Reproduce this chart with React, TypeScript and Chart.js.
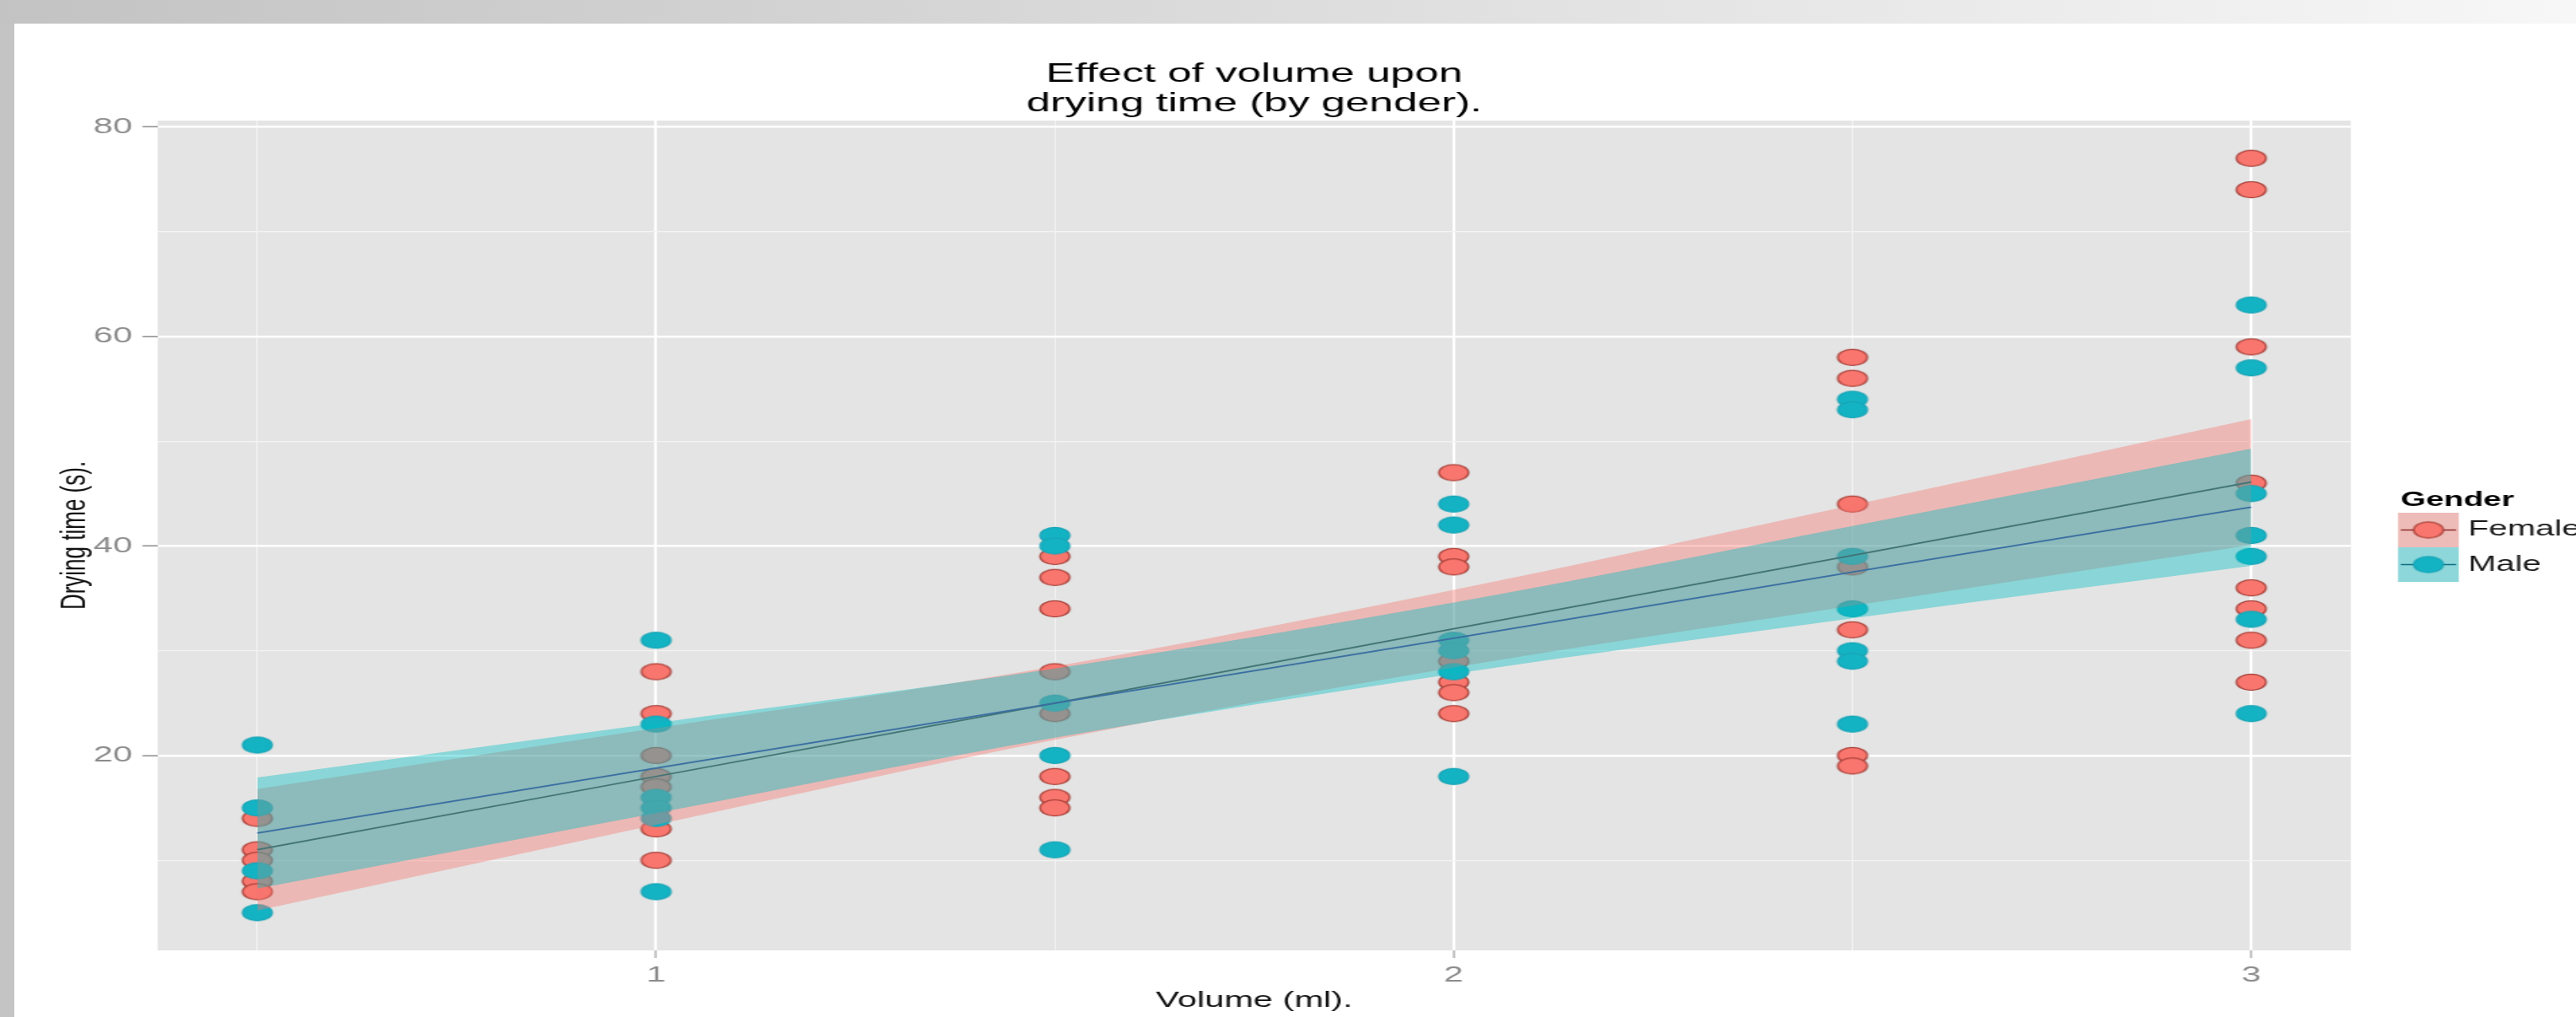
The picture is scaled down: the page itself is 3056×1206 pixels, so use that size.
import React, { useEffect, useRef } from 'react';
import { Chart, registerables } from 'chart.js';

Chart.register(...registerables);

// ---------------- data ----------------
const VOLUMES = [0.5, 1, 1.5, 2, 2.5, 3];
const FEMALE_TIMES = [
  [14, 11, 10, 8, 7],
  [28, 24, 20, 18, 17, 13, 10],
  [39, 37, 34, 28, 24, 18, 16, 15],
  [47, 39, 38, 29, 27, 26, 24],
  [58, 56, 44, 38, 32, 20, 19],
  [77, 74, 59, 46, 36, 34, 31, 27],
];
const MALE_TIMES = [
  [21, 15, 9, 5],
  [31, 23, 16, 15, 14, 7],
  [41, 40, 25, 20, 11],
  [44, 42, 31, 30, 28, 18],
  [54, 53, 39, 34, 30, 29, 23],
  [63, 57, 45, 41, 39, 33, 24],
];
const FIT_VOLUMES = [0.5, 1, 1.5, 2, 2.5, 3];
const FEMALE_FIT = [11.0, 18.0, 25.0, 32.1, 39.1, 46.1];
const FEMALE_LOW = [5.2, 13.4, 21.5, 28.4, 34.3, 40.1];
const FEMALE_HIGH = [16.8, 22.6, 28.5, 35.8, 43.9, 52.1];
const MALE_FIT = [12.6, 18.8, 25.0, 31.2, 37.5, 43.7];
const MALE_LOW = [7.3, 14.5, 21.7, 27.8, 33.1, 38.1];
const MALE_HIGH = [17.9, 23.1, 28.3, 34.6, 41.9, 49.3];

const SERIES = ['Female', 'Male'];
const X_TICKS = [0.5, 1, 1.5, 2, 2.5, 3];
const X_TICK_LABELS = ['', '1', '', '2', '', '3'];
const Y_TICKS = [10, 20, 30, 40, 50, 60, 70, 80];
const Y_TICK_LABELS = ['', '20', '', '40', '', '60', '', '80'];
const TITLE = ['Effect of volume upon', 'drying time (by gender).'];
const X_TITLE = 'Volume (ml).';
const Y_TITLE = 'Drying time (s).';
const LEGEND_TITLE = 'Gender';

// ---------------- style / layout ----------------
const PAGE_W = 3056;
const PAGE_H = 1206;
const STRETCH = 1.6; // the original picture is stretched horizontally
const CANVAS_W = PAGE_W / STRETCH;
const px = (fullX: number) => fullX / STRETCH;

const FONT = '"Liberation Sans", Arial, Helvetica, sans-serif';
Chart.defaults.font.family = FONT;

const FEMALE_FILL = '#F8766D';
const FEMALE_STROKE = '#A8403A';
const MALE_FILL = '#14B3C4';
const MALE_STROKE = '#1AA5B6';
const FEMALE_BAND = 'rgba(248,118,109,0.4)';
const MALE_BAND = 'rgba(0,191,196,0.4)';
const FEMALE_LINE = '#6E4441';
const MALE_LINE = '#3A6FA2';
const TICK_COLOR = '#8C8C8C';

const xLabel = (v: number) => {
  const i = X_TICKS.indexOf(v);
  return i >= 0 ? X_TICK_LABELS[i] : '';
};
const yLabel = (v: number) => {
  const i = Y_TICKS.indexOf(v);
  return i >= 0 ? Y_TICK_LABELS[i] : '';
};

function makeMarker(fill: string, stroke: string): HTMLCanvasElement {
  const rx = 35 / 2 / STRETCH;
  const ry = 9.6;
  const c = document.createElement('canvas');
  c.width = Math.ceil(rx * 2 + 4);
  c.height = Math.ceil(ry * 2 + 4);
  const g = c.getContext('2d')!;
  g.beginPath();
  g.ellipse(c.width / 2, c.height / 2, rx, ry, 0, 0, Math.PI * 2);
  g.fillStyle = fill;
  g.fill();
  g.lineWidth = 1.3;
  g.strokeStyle = stroke;
  g.stroke();
  return c;
}

const toPoints = (groups: number[][]) =>
  groups.flatMap((ys, i) => ys.map((y) => ({ x: VOLUMES[i], y })));
const toLine = (ys: number[]) => ys.map((y, i) => ({ x: FIT_VOLUMES[i], y }));

export default function App() {
  const ref = useRef<HTMLCanvasElement | null>(null);

  useEffect(() => {
    if (!ref.current) return;
    const femaleMarker = makeMarker(FEMALE_FILL, FEMALE_STROKE);
    const maleMarker = makeMarker(MALE_FILL, MALE_STROKE);

    const panelBg = {
      id: 'panelBg',
      beforeDraw(chart: any) {
        const { ctx, chartArea } = chart;
        ctx.save();
        ctx.fillStyle = '#E4E4E4';
        ctx.fillRect(chartArea.left, chartArea.top, chartArea.width, chartArea.height);
        ctx.restore();
      },
    };

    const ggLegend = {
      id: 'ggLegend',
      afterDraw(chart: any) {
        const ctx = chart.ctx;
        ctx.save();
        ctx.textBaseline = 'middle';
        ctx.textAlign = 'left';
        ctx.fillStyle = '#000';
        ctx.font = `bold 24px ${FONT}`;
        ctx.fillText(LEGEND_TITLE, px(2848), 593);
        const keys = [
          { bg: '#EEBCB8', line: '#8E2E2A', marker: femaleMarker, top: 608, textY: 628 },
          { bg: '#8DD7DA', line: '#0F6F84', marker: maleMarker, top: 649, textY: 670 },
        ];
        const left = px(2845);
        const w = px(2917) - left;
        keys.forEach((k, i) => {
          ctx.fillStyle = k.bg;
          ctx.fillRect(left, k.top, w, 41);
          const cy = k.top + 20.5;
          ctx.strokeStyle = k.line;
          ctx.lineWidth = 1.5;
          ctx.beginPath();
          ctx.moveTo(left + 2, cy);
          ctx.lineTo(left + w - 2, cy);
          ctx.stroke();
          ctx.drawImage(k.marker, left + w / 2 - k.marker.width / 2, cy - k.marker.height / 2);
          ctx.fillStyle = '#1A1A1A';
          ctx.font = `25px ${FONT}`;
          ctx.fillText(SERIES[i], px(2928), k.textY);
        });
        ctx.restore();
      },
    };

    const bandCommon = {
      pointRadius: 0,
      pointHoverRadius: 0,
      borderWidth: 0,
      borderColor: 'transparent',
      showLine: true,
      cubicInterpolationMode: 'monotone' as const,
    };

    const chart = new Chart(ref.current, {
      type: 'line',
      data: {
        datasets: [
          {
            label: SERIES[0],
            data: toPoints(FEMALE_TIMES),
            showLine: false,
            pointStyle: femaleMarker as any,
            pointRadius: 10,
            order: 6,
          },
          {
            label: SERIES[1],
            data: toPoints(MALE_TIMES),
            showLine: false,
            pointStyle: maleMarker as any,
            pointRadius: 10,
            order: 5,
          },
          {
            label: 'Female band high',
            data: toLine(FEMALE_HIGH),
            ...bandCommon,
            fill: '+1',
            backgroundColor: FEMALE_BAND,
            order: 4,
          },
          {
            label: 'Female band low',
            data: toLine(FEMALE_LOW),
            ...bandCommon,
            fill: false,
            order: 4,
          },
          {
            label: 'Female fit',
            data: toLine(FEMALE_FIT),
            borderColor: FEMALE_LINE,
            borderWidth: 1.8,
            pointRadius: 0,
            fill: false,
            order: 3,
          },
          {
            label: 'Male band high',
            data: toLine(MALE_HIGH),
            ...bandCommon,
            fill: '+1',
            backgroundColor: MALE_BAND,
            order: 2,
          },
          {
            label: 'Male band low',
            data: toLine(MALE_LOW),
            ...bandCommon,
            fill: false,
            order: 2,
          },
          {
            label: 'Male fit',
            data: toLine(MALE_FIT),
            borderColor: MALE_LINE,
            borderWidth: 1.8,
            pointRadius: 0,
            fill: false,
            order: 1,
          },
        ],
      },
      options: {
        responsive: false,
        devicePixelRatio: 1,
        animation: false,
        events: [],
        layout: { padding: { left: 12, right: CANVAS_W - px(2789), top: 30, bottom: 0 } },
        plugins: {
          legend: { display: false },
          tooltip: { enabled: false },
          title: {
            display: true,
            text: TITLE,
            fullSize: false,
            color: '#000',
            font: { size: 32, weight: 'normal', lineHeight: '35px' },
            padding: { top: 40.5, bottom: 2.5 },
          },
        },
        scales: {
          x: {
            type: 'linear',
            min: 0.375,
            max: 3.125,
            afterBuildTicks: (s: any) => {
              s.ticks = X_TICKS.map((v) => ({ value: v }));
            },
            afterFit: (s: any) => {
              s.height = 79;
            },
            border: { display: false },
            grid: {
              color: (c: any) => (c.tick && xLabel(c.tick.value) !== '' ? '#FFFFFF' : '#F3F3F3'),
              lineWidth: (c: any) => (c.tick && xLabel(c.tick.value) !== '' ? 2.1 : 1.0),
              tickColor: (c: any) => (c.tick && xLabel(c.tick.value) !== '' ? TICK_COLOR : 'rgba(0,0,0,0)'),
              tickLength: 9,
              tickWidth: 1,
            },
            ticks: {
              autoSkip: false,
              maxRotation: 0,
              padding: 5.4,
              color: TICK_COLOR,
              font: { size: 26 },
              callback: (v: any) => xLabel(Number(v)),
            },
            title: {
              display: true,
              text: X_TITLE,
              color: '#111',
              font: { size: 26 },
              padding: { top: 0, bottom: 3.6 },
            },
          },
          y: {
            type: 'linear',
            min: 1.4,
            max: 80.6,
            afterBuildTicks: (s: any) => {
              s.ticks = Y_TICKS.map((v) => ({ value: v }));
            },
            afterFit: (s: any) => {
              s.width = px(187) - 12;
            },
            border: { display: false },
            grid: {
              color: (c: any) => (c.tick && yLabel(c.tick.value) !== '' ? '#FFFFFF' : '#F3F3F3'),
              lineWidth: (c: any) => (c.tick && yLabel(c.tick.value) !== '' ? 2.5 : 1.3),
              tickColor: (c: any) => (c.tick && yLabel(c.tick.value) !== '' ? TICK_COLOR : 'rgba(0,0,0,0)'),
              tickLength: px(187) - px(169),
              tickWidth: 1.5,
            },
            ticks: {
              autoSkip: false,
              padding: px(169) - px(157),
              color: TICK_COLOR,
              font: { size: 26 },
              callback: (v: any) => yLabel(Number(v)),
            },
            title: {
              display: true,
              text: Y_TITLE,
              color: '#111',
              font: { size: 26 },
              padding: { top: px(90) - 12 - 15.6, bottom: 0 },
            },
          },
        },
      },
      plugins: [panelBg, ggLegend],
    } as any);

    return () => chart.destroy();
  }, []);

  return (
    <div
      style={{
        position: 'fixed',
        left: 0,
        top: 0,
        width: PAGE_W,
        height: PAGE_H,
        background: '#FFFFFF',
        overflow: 'hidden',
      }}
    >
      <div
        style={{
          position: 'absolute',
          left: 0,
          top: 0,
          width: PAGE_W,
          height: 28,
          background: 'linear-gradient(to right, #C3C3C3, #D2D2D2 30%, #F7F7F7)',
        }}
      />
      <div
        style={{
          position: 'absolute',
          left: 0,
          top: 28,
          width: 17,
          height: PAGE_H - 28,
          background: '#C4C4C4',
        }}
      />
      <canvas
        ref={ref}
        width={CANVAS_W}
        height={PAGE_H}
        style={{ position: 'absolute', left: 0, top: 0, width: `${PAGE_W}px`, height: `${PAGE_H}px` }}
      />
    </div>
  );
}
